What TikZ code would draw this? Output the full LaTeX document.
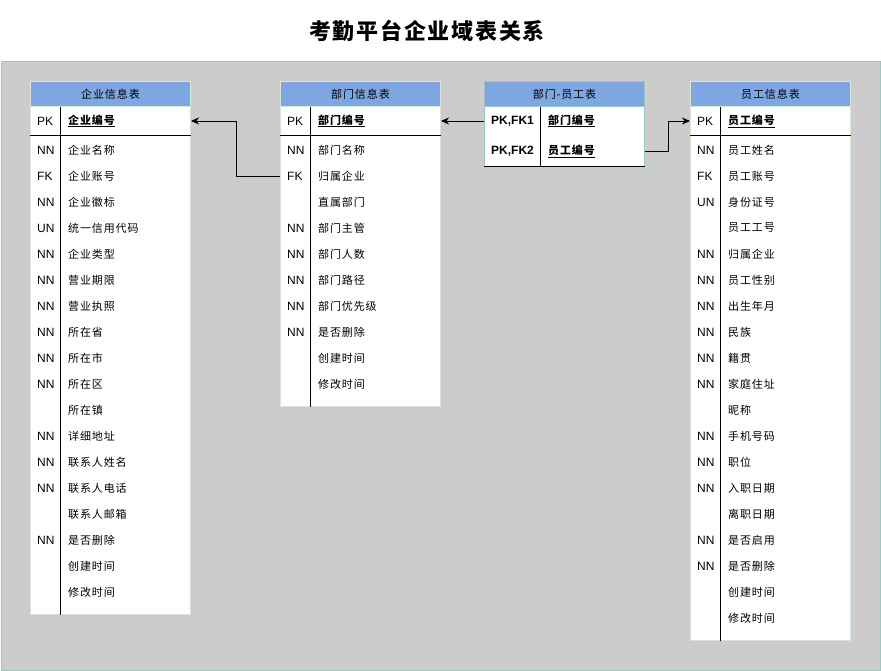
\documentclass[tikz,border=0pt]{standalone}
\usepackage{fontspec}
\setmainfont{Liberation Sans}
\newfontfamily\cjk{Noto Sans CJK SC}[LetterSpace=8]
\usetikzlibrary{arrows.meta}
\definecolor{bgfill}{HTML}{CCCCCC}
\definecolor{bgborder}{HTML}{9AC7BF}
\definecolor{tblgreen}{HTML}{D5E8D4}
\definecolor{hdrblue}{HTML}{7EA6E0}
\tikzset{
  tblbox/.style={draw=tblgreen, fill=white, line width=1pt, anchor=north west, minimum width=160pt, inner sep=0pt},
  hdrbox/.style={draw=tblgreen, fill=hdrblue, line width=1pt, anchor=north west, minimum width=160pt, minimum height=25pt, inner sep=0pt, font=\cjk\fontsize{11}{13}\selectfont},
  keytxt/.style={anchor=west, inner sep=0pt, font=\fontsize{12}{14}\selectfont},
  keybold/.style={anchor=west, inner sep=0pt, font=\bfseries\fontsize{12}{14}\selectfont},
  fldtxt/.style={anchor=west, inner sep=0pt, font=\cjk\fontsize{11}{13}\selectfont},
  pkfld/.style={anchor=west, inner sep=0pt, font=\cjk\bfseries\fontsize{11}{13}\selectfont},
  sep/.style={draw=black, line width=1pt},
  arr/.style={draw=black, line width=0.9pt, -{Stealth[length=8pt,width=7pt]}}
}
\newcommand{\ul}[1]{\underline{#1}}
\begin{document}
\begin{tikzpicture}[x=1pt,y=-1pt]
\useasboundingbox (0,0) rectangle (881,671);
% title
\node[font=\cjk\bfseries\fontsize{22}{26}\selectfont, inner sep=0pt] (title) at (427,31) {考勤平台企业域表关系};
% background
\node[draw=bgborder, fill=bgfill, line width=1pt, anchor=north west, minimum width=879pt, minimum height=609pt, inner sep=0pt] (bg) at (0.5,61) {};

% ---------- Table 1 ----------
\node[tblbox, minimum height=533pt] (t1) at (30,81) {};
\node[hdrbox] (t1h) at (30,81) {企业信息表};
\draw[sep] ([xshift=30pt]t1h.south west) -- ([xshift=30pt]t1.south west);
\draw[sep] ([yshift=-55pt]t1.north west) -- ([yshift=-55pt]t1.north east);
\node[keytxt] (t1pk) at (37,121) {PK};
\node[pkfld] (t1pkf) at (68,121) {\ul{企业编号}};
\foreach \k/\f [count=\i] in {NN/企业名称,FK/企业账号,NN/企业徽标,UN/统一信用代码,NN/企业类型,NN/营业期限,NN/营业执照,NN/所在省,NN/所在市,NN/所在区,/所在镇,NN/详细地址,NN/联系人姓名,NN/联系人电话,/联系人邮箱,NN/是否删除,/创建时间,/修改时间}{
  \node[keytxt] (t1k\i) at (37,124+26*\i) {\k};
  \node[fldtxt] (t1f\i) at (68,124+26*\i) {\f};
}

% ---------- Table 2 ----------
\node[tblbox, minimum height=325pt] (t2) at (280,81) {};
\node[hdrbox] (t2h) at (280,81) {部门信息表};
\draw[sep] ([xshift=30pt]t2h.south west) -- ([xshift=30pt]t2.south west);
\draw[sep] ([yshift=-55pt]t2.north west) -- ([yshift=-55pt]t2.north east);
\node[keytxt] (t2pk) at (287,121) {PK};
\node[pkfld] (t2pkf) at (318,121) {\ul{部门编号}};
\foreach \k/\f [count=\i] in {NN/部门名称,FK/归属企业,/直属部门,NN/部门主管,NN/部门人数,NN/部门路径,NN/部门优先级,NN/是否删除,/创建时间,/修改时间}{
  \node[keytxt] (t2k\i) at (287,124+26*\i) {\k};
  \node[fldtxt] (t2f\i) at (318,124+26*\i) {\f};
}

% ---------- Table 3 ----------
\node[tblbox, draw=bgborder, minimum height=85pt] (t3) at (484,81) {};
\node[hdrbox, draw=bgborder] (t3h) at (484,81) {部门-员工表};
\draw[sep] ([xshift=56pt]t3h.south west) -- ([xshift=56pt]t3.south west);
\draw[sep] (t3.south west) -- (t3.south east);
\node[keybold] (t3k1) at (491,121) {PK,FK1};
\node[pkfld] (t3f1) at (548,121) {\ul{部门编号}};
\node[keybold] (t3k2) at (491,151) {PK,FK2};
\node[pkfld] (t3f2) at (548,151) {\ul{员工编号}};

% ---------- Table 4 ----------
\node[tblbox, minimum height=559pt] (t4) at (690,81) {};
\node[hdrbox] (t4h) at (690,81) {员工信息表};
\draw[sep] ([xshift=30pt]t4h.south west) -- ([xshift=30pt]t4.south west);
\draw[sep] ([yshift=-55pt]t4.north west) -- ([yshift=-55pt]t4.north east);
\node[keytxt] (t4pk) at (697,121) {PK};
\node[pkfld] (t4pkf) at (728,121) {\ul{员工编号}};
\foreach \k/\f [count=\i] in {NN/员工姓名,FK/员工账号,UN/身份证号,/员工工号,NN/归属企业,NN/员工性别,NN/出生年月,NN/民族,NN/籍贯,NN/家庭住址,/昵称,NN/手机号码,NN/职位,NN/入职日期,/离职日期,NN/是否启用,NN/是否删除,/创建时间,/修改时间}{
  \node[keytxt] (t4k\i) at (697,124+26*\i) {\k};
  \node[fldtxt] (t4f\i) at (728,124+26*\i) {\f};
}

% ---------- connectors ----------
\draw[arr] (t2.west |- t2k2) -- ++(-44,0) |- (t1.east |- t1pk);
\draw[arr] (t3.west |- t3k1) -- (t2.east |- t2pk);
\draw[arr] (t3.east |- t3k2) -- ++(23,0) |- (t4.west |- t4pk);
\end{tikzpicture}
\end{document}
